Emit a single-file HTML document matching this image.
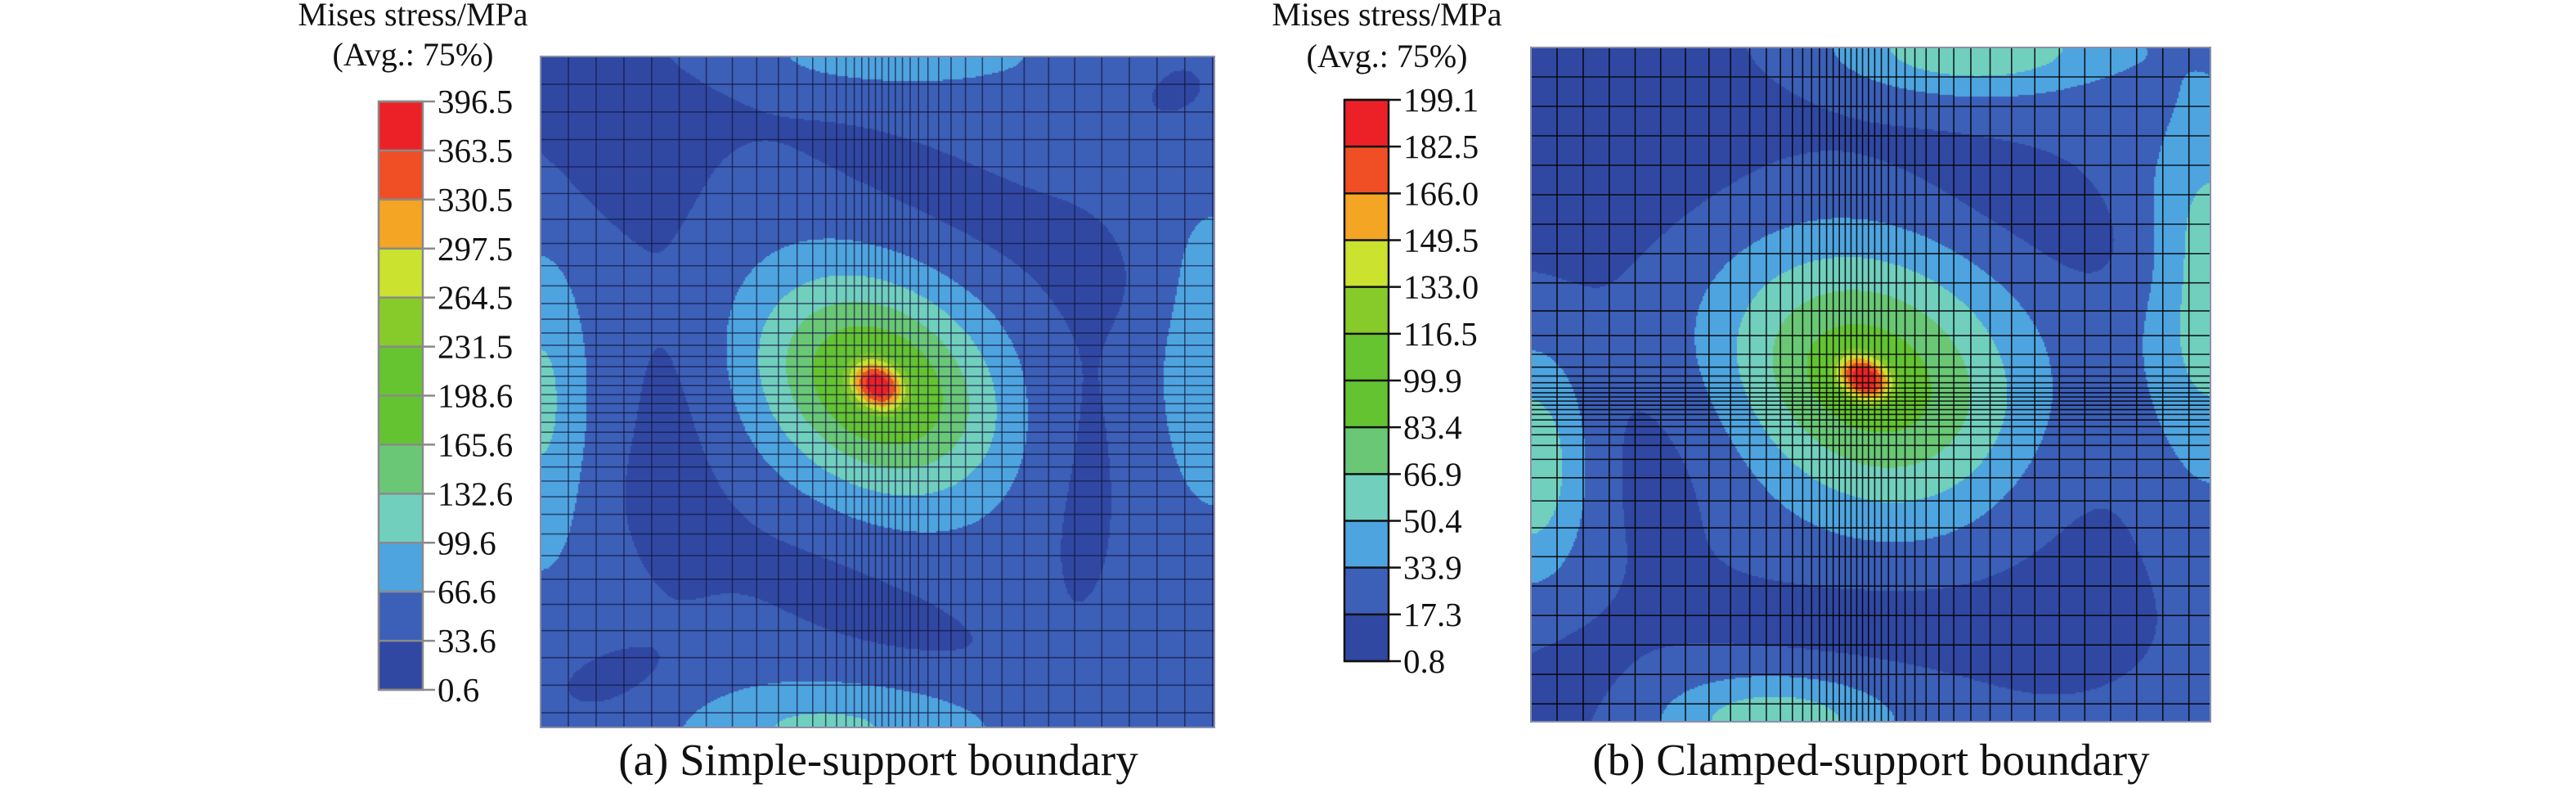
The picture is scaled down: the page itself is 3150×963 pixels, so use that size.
<!DOCTYPE html>
<html><head><meta charset="utf-8"><style>
html,body{margin:0;padding:0;background:#fff;}
#wrap{position:relative;width:3150px;height:963px;overflow:hidden;font-family:"Liberation Serif",serif;}
canvas{position:absolute;}
svg{position:absolute;left:0;top:0;}
</style></head><body>
<div id="wrap">
<canvas id="fa" style="left:661px;top:69px" width="824" height="820"></canvas>
<canvas id="fb" style="left:1872px;top:58px" width="831" height="824"></canvas>
<svg id="ov" width="3150" height="963"></svg>
</div>
<script>
// Legend levels (ascending)
const levelsA = [0.6,33.6,66.6,99.6,132.6,165.6,198.6,231.5,264.5,297.5,330.5,363.5,396.5];
const levelsB = [0.8,17.3,33.9,50.4,66.9,83.4,99.9,116.5,133.0,149.5,166.0,182.5,199.1];
const bandColors = ["#3048a2","#3c5fb7","#4ea4df","#71cfbe","#69c776","#64c331","#66c430","#87cb2a","#cbe22f","#f3a523","#f04e24","#ec2127"];
// Field blobs: [u, v, sigmaU, sigmaV, angleDeg, amplitude]
const baseA = 45;
const blobsA = [
 [0.50,0.49,0.13,0.10,35,165],[0.50,0.49,0.03,0.024,35,190],
 [0.0,0.52,0.05,0.17,0,62],[1.0,0.45,0.06,0.16,0,55],[0.53,0.0,0.17,0.035,0,40],[0.42,1.0,0.18,0.05,0,60],
 [0.1,0.1,0.12,0.12,0,-25],[0.62,0.22,0.25,0.06,25,-20],[0.2,0.55,0.06,0.2,0,-20],[0.8,0.6,0.06,0.2,0,-20],
 [0.45,0.8,0.22,0.06,25,-20],[0.1,0.95,0.1,0.06,0,-20],[0.95,0.05,0.08,0.08,0,-15]
];
const baseB = 20;
const blobsB = [
 [0.50,0.49,0.17,0.13,30,75],[0.49,0.49,0.032,0.024,30,105],
 [1.0,0.36,0.07,0.2,0,42],[0.0,0.62,0.06,0.12,0,45],[0.65,0.0,0.15,0.05,0,45],[0.36,1.0,0.12,0.05,0,42],
 [0.15,0.15,0.22,0.18,0,-12],[0.75,0.25,0.2,0.06,25,-10],[0.2,0.6,0.1,0.12,0,-10],[0.78,0.7,0.12,0.15,0,-10],
 [0.5,0.85,0.2,0.06,0,-10],[0.05,0.95,0.08,0.08,0,-8]
];

function field(base, blobs, u, v){
  let f = base;
  for (const b of blobs){
    const a = b[4]*Math.PI/180, du=u-b[0], dv=v-b[1];
    const p = du*Math.cos(a)+dv*Math.sin(a), q = -du*Math.sin(a)+dv*Math.cos(a);
    f += b[5]*Math.exp(-(p*p/(b[2]*b[2])+q*q/(b[3]*b[3]))/2);
  }
  return f;
}
function colorFor(levels, f){
  for (let i=levels.length-2;i>=0;i--) if (f>=levels[i]) return bandColors[i];
  return bandColors[0];
}
function drawField(id, base, blobs, levels){
  const c=document.getElementById(id), ctx=c.getContext('2d'), W=c.width, H=c.height, s=2;
  for (let y=0;y<H;y+=s) for (let x=0;x<W;x+=s){
    ctx.fillStyle=colorFor(levels, field(base,blobs,(x+1)/W,(y+1)/H));
    ctx.fillRect(x,y,s,s);
  }
}
drawField('fa',baseA,blobsA,levelsA);
drawField('fb',baseB,blobsB,levelsB);

const NS="http://www.w3.org/2000/svg", ov=document.getElementById('ov');
function mk(tag, attrs, parent){ const e=document.createElementNS(NS,tag); for(const k in attrs) e.setAttribute(k,attrs[k]); (parent||ov).appendChild(e); return e; }

function meshPos(len, coarse, fine, c, w){
  const out=[]; let t=0;
  while (t<len){ out.push(t); const r=(t/len-c)/w; t += coarse-(coarse-fine)*Math.exp(-r*r); }
  return out;
}
function drawMesh(name, x0,y0,W,H, stroke, vx, hy){
  const g=mk('g',{stroke:stroke,'stroke-width':1.6});
  
  
  for (const x of meshPos(W,vx[0],vx[1],vx[2],vx[3])) mk('line',{x1:x0+x,y1:y0,x2:x0+x,y2:y0+H},g);
  for (const y of meshPos(H,hy[0],hy[1],hy[2],hy[3])) mk('line',{x1:x0,y1:y0+y,x2:x0+W,y2:y0+y},g);
  const r=mk('rect',{x:x0,y:y0,width:W,height:H,fill:'none',stroke:'#8a8fa8','stroke-width':2});
  
  
}
drawMesh('mesh-simple',661,69,824,820,'rgba(20,20,60,0.65)',[34,8,0.5,0.16],[34,11,0.5,0.2]);
drawMesh('mesh-clamped',1872,58,831,824,'rgba(0,0,0,0.85)',[32,7,0.47,0.17],[36,5,0.52,0.1]);

function legend(name, levels, x, top, bottom, tickColor, labelX, title1, title2, tcx, t1y, t2y){
  const g=mk('g',{});
  
  
  const n=levels.length-1, step=(bottom-top)/n;
  for (let i=0;i<n;i++){
    const r=mk('rect',{x:x,y:bottom-(i+1)*step,width:54,height:step,fill:bandColors[i]},g);
    
    
  }
  mk('rect',{x:x,y:top,width:54,height:bottom-top,fill:'none',stroke:tickColor,'stroke-width':2.5},g);
  for (let i=0;i<=n;i++){
    const y=bottom-i*step;
    mk('line',{x1:x,y1:y,x2:x+69,y2:y,stroke:tickColor,'stroke-width':2.5},g);
    const t=mk('text',{x:labelX,y:y+14,'font-size':41,fill:'#111'},g);
    t.textContent=levels[i].toFixed(1);
    
    
  }
  const a=mk('text',{x:tcx,y:t1y,'font-size':40,'text-anchor':'middle',fill:'#111'},g);
  a.textContent=title1;
  
  
  const b=mk('text',{x:tcx,y:t2y,'font-size':40,'text-anchor':'middle',fill:'#111'},g);
  b.textContent=title2;
  
  
}
legend('legend-simple',levelsA,463,124,843,'#8a8a8a',535,'Mises stress/MPa','(Avg.: 75%)',505,31,80);
legend('legend-clamped',levelsB,1644,122,808,'#111',1716,'Mises stress/MPa','(Avg.: 75%)',1696,31,82);

const c1=mk('text',{x:1074,y:947,'font-size':55,'text-anchor':'middle',fill:'#111'});
c1.textContent='(a) Simple-support boundary';


const c2=mk('text',{x:2288,y:947,'font-size':55,'text-anchor':'middle',fill:'#111'});
c2.textContent='(b) Clamped-support boundary';


</script>
</body></html>
